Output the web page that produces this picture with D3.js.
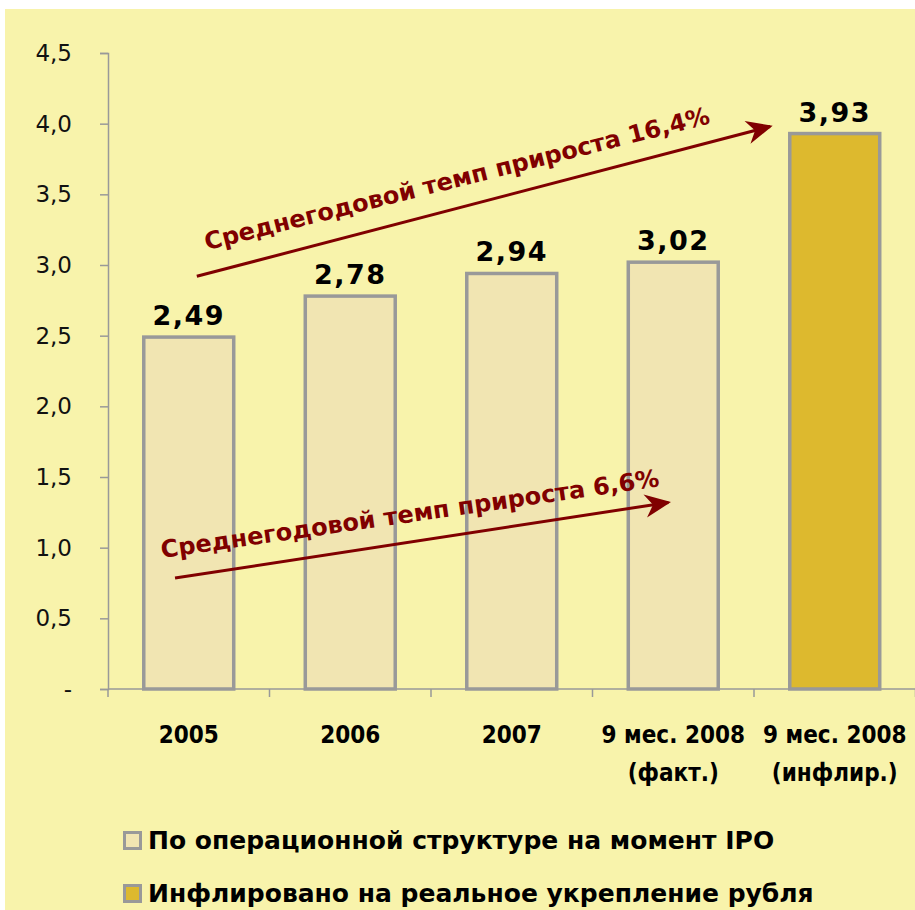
<!DOCTYPE html>
<html>
<head>
<meta charset="utf-8">
<script src="https://cdn.jsdelivr.net/npm/d3@7"></script>
<style>
  body { margin: 0; background: #fff; }
  svg { display: block; }
</style>
</head>
<body>
<div id="chart"></div>
<script>
// data
const categories = ["2005", "2006", "2007", "9 мес. 2008|(факт.)", "9 мес. 2008|(инфлир.)"];
const values = [2.49, 2.78, 2.94, 3.02, 3.93];
const series = ["fact", "fact", "fact", "fact", "infl"];
const yTicks = [0, 0.5, 1.0, 1.5, 2.0, 2.5, 3.0, 3.5, 4.0, 4.5];
const legendLabels = ["По операционной структуре на момент IPO", "Инфлировано на реальное укрепление рубля"];
const legendKeys = ["fact", "infl"];
// growth arrows in (category index, value) space
const arrowLabels = ["Среднегодовой темп прироста 16,4%", "Среднегодовой темп прироста 6,6%"];
const arrowFrom = [[0.05, 2.92], [-0.085, 0.785]];
const arrowTo = [[3.6, 3.98], [2.97, 1.32]];

const width = 915, height = 910;
const fill = { fact: "#f1e5b2", infl: "#ddb92e" };

const svg = d3.select("#chart").append("svg")
    .attr("width", width)
    .attr("height", height);

svg.append("rect")
    .attr("x", 5).attr("y", 9)
    .attr("width", width - 5).attr("height", height - 9)
    .attr("fill", "#f8f3ab");

const xScale = d3.scaleBand()
    .domain(categories)
    .range([108, 915.5])
    .paddingInner(0.443)
    .paddingOuter(0.2215);

const yScale = d3.scaleLinear()
    .domain([0, 4.5])
    .range([689, 53]);

// index -> band centre, for annotations
const step = xScale.step();
const x0 = xScale(categories[0]) + xScale.bandwidth() / 2;
const xIndex = d3.scaleLinear().domain([0, 1]).range([x0, x0 + step]);

// y axis
const fmt = d => d === 0 ? "-" : d3.format(".1f")(d).replace(".", ",");
const yAxis = svg.append("g")
    .attr("transform", "translate(108,0)")
    .call(d3.axisLeft(yScale).tickValues(yTicks).tickFormat(fmt).tickSize(8).tickPadding(28));
yAxis.select(".domain").attr("stroke", "#999").attr("stroke-width", 1.5);
yAxis.selectAll(".tick line").attr("stroke", "#999").attr("stroke-width", 1.5);
yAxis.selectAll(".tick text")
    .attr("font-family", "DejaVu Sans, sans-serif")
    .attr("font-size", 23)
    .attr("fill", "#111");

// x axis line + ticks at band edges
const edges = d3.range(categories.length + 1).map(i => 108 + i * step);
svg.append("line")
    .attr("x1", 108).attr("x2", 915.5)
    .attr("y1", yScale(0)).attr("y2", yScale(0))
    .attr("stroke", "#999").attr("stroke-width", 1.5);
svg.selectAll(".xtick").data(edges).enter().append("line")
    .attr("x1", d => d).attr("x2", d => d)
    .attr("y1", yScale(0)).attr("y2", yScale(0) + 8)
    .attr("stroke", "#999").attr("stroke-width", 1.5);

// x labels
const xLabels = svg.selectAll(".xlabel").data(categories).enter().append("text")
    .attr("text-anchor", "middle")
    .attr("font-family", "DejaVu Sans, sans-serif")
    .attr("font-stretch", "condensed")
    .attr("font-weight", "bold")
    .attr("font-size", 24)
    .attr("fill", "#000");
xLabels.each(function(d) {
    const parts = d.split("|");
    const cx = xScale(d) + xScale.bandwidth() / 2;
    parts.forEach((p, i) => {
        d3.select(this).append("tspan")
            .attr("x", cx)
            .attr("y", 743 + i * 38)
            .text(p);
    });
});

// bars
svg.selectAll(".bar").data(values).enter().append("rect")
    .attr("x", (d, i) => xScale(categories[i]))
    .attr("y", d => yScale(d))
    .attr("width", xScale.bandwidth())
    .attr("height", d => yScale(0) - yScale(d))
    .attr("fill", (d, i) => fill[series[i]])
    .attr("stroke", "#999")
    .attr("stroke-width", 3.5);

// value labels
svg.selectAll(".val").data(values).enter().append("text")
    .attr("x", (d, i) => xScale(categories[i]) + xScale.bandwidth() / 2)
    .attr("y", d => yScale(d) - 12)
    .attr("text-anchor", "middle")
    .attr("font-family", "DejaVu Sans, sans-serif")
    .attr("font-weight", "bold")
    .attr("font-size", 27)
    .attr("letter-spacing", 1.5)
    .attr("fill", "#000")
    .text(d => d3.format(".2f")(d).replace(".", ","));

// arrows
svg.append("defs").append("marker")
    .attr("id", "arrow")
    .attr("viewBox", "0 0 10 10")
    .attr("refX", 9).attr("refY", 5)
    .attr("markerWidth", 28).attr("markerHeight", 26)
    .attr("markerUnits", "userSpaceOnUse")
    .attr("orient", "auto")
    .append("path")
    .attr("d", "M0,0.5 L10,5 L0,9.5 L3,5 Z")
    .attr("fill", "#800000");

const textShift = [[10, -26], [-13, -20]];
arrowLabels.forEach((label, i) => {
    const x1 = xIndex(arrowFrom[i][0]), y1 = yScale(arrowFrom[i][1]);
    const x2 = xIndex(arrowTo[i][0]), y2 = yScale(arrowTo[i][1]);
    svg.append("line")
        .attr("x1", x1).attr("y1", y1)
        .attr("x2", x2).attr("y2", y2)
        .attr("stroke", "#800000")
        .attr("stroke-width", 3)
        .attr("marker-end", "url(#arrow)");
    const ang = Math.atan2(y2 - y1, x2 - x1) * 180 / Math.PI;
    svg.append("text")
        .attr("transform", `translate(${x1 + textShift[i][0]},${y1 + textShift[i][1]}) rotate(${ang + 0.5})`)
        .attr("font-family", "DejaVu Sans, sans-serif")
        .attr("font-weight", "bold")
        .attr("font-size", 24)
        .attr("fill", "#800000")
        .text(label);
});

// legend
const legend = svg.selectAll(".legend").data(legendLabels).enter().append("g")
    .attr("transform", (d, i) => `translate(123,${831 + i * 53})`);
legend.append("rect")
    .attr("x", 1.5).attr("y", 1.5)
    .attr("width", 16).attr("height", 16)
    .attr("fill", (d, i) => fill[legendKeys[i]])
    .attr("stroke", "#999")
    .attr("stroke-width", 3);
legend.append("text")
    .attr("x", 25).attr("y", 18)
    .attr("font-family", "DejaVu Sans, sans-serif")
    .attr("font-weight", "bold")
    .attr("font-size", 25)
    .attr("fill", "#000")
    .text(d => d);
</script>
</body>
</html>
